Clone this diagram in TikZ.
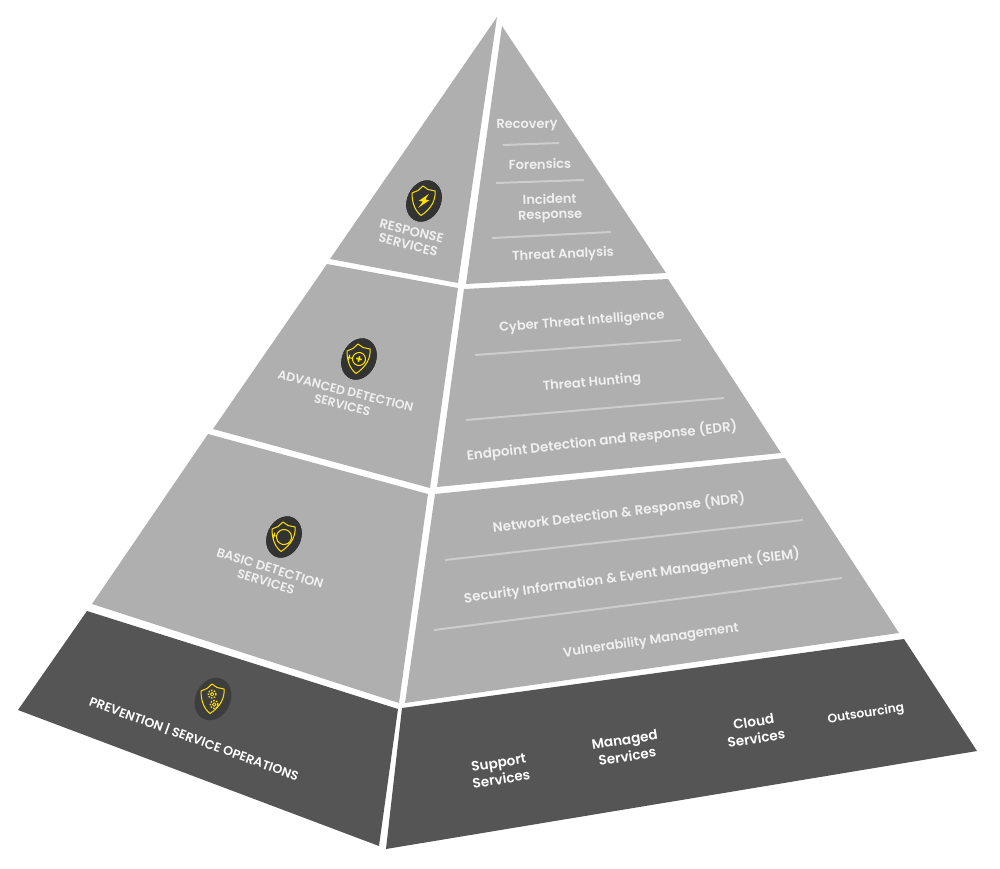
\documentclass[tikz,border=0pt]{standalone}
\usepackage{fontspec}
\setmainfont{Poppins}[UprightFont=* SemiBold,BoldFont=* Bold]
\begin{document}
\begin{tikzpicture}[x=0.75pt,y=-0.75pt,line cap=butt,
    lightface/.style={fill=facelight},
    darkface/.style={fill=facedark},
    rule/.style={draw=rulegray,line width=1.5pt},
    label/.style={text=textlight,font=\fontsize{9.7}{11.4}\selectfont,align=center,inner sep=0pt},
    wide/.style={label,font=\fontsize{10.1}{11.4}\selectfont},
    caps/.style={label,font=\fontsize{#1}{10.6}\selectfont},
    base/.style={label,text=white,font=\fontsize{10.2}{12.6}\selectfont},
    iconline/.style={draw=iconyellow,line width=0.75pt,line join=round},
    gear/.pic={
        \draw[iconline,line width=0.6pt] (0,0) circle (1.8);
        \draw[iconline,line width=1pt,dash pattern=on 1.1pt off 1pt] (0,0) circle (3.9);
    },
    shieldbase/.pic={
        \fill[line width=0.4pt,rotate=-25,#1] (0,0) ellipse (17.5 and 22);
        \draw[iconline] (-1,-15) -- (4,-11.5) -- (11,-10) .. controls (12,-1) and (7,8) .. (-3,14.5)
            .. controls (-10,9) and (-12,0) .. (-12,-8) -- (-6,-10.5) -- cycle;
    },
    ]
    \definecolor{facelight}{HTML}{AFAFAF}
    \definecolor{facedark}{HTML}{555555}
    \definecolor{rulegray}{HTML}{CDCDCD}
    \definecolor{textlight}{HTML}{F0F0F0}
    \definecolor{iconyellow}{HTML}{FFE100}
    \definecolor{iconfill}{HTML}{333333}
    \definecolor{iconfilldark}{HTML}{3D3D3D}
    \definecolor{iconedge}{HTML}{C4C4C4}
    \useasboundingbox (0,0) rectangle (1000,868);
    % left side
    \fill[lightface] (497,17) -- (458,283) -- (330,259) -- cycle;
    \fill[lightface] (327,264) -- (458,288) -- (430,488) -- (213,429) -- cycle;
    \fill[lightface] (208,434) -- (428,494) -- (399,703) -- (92,604) -- cycle;
    \fill[darkface] (87,611) -- (398,709) -- (379,846) -- (18,710) -- cycle;
    % right side
    \fill[lightface] (502,26) -- (666,273) -- (466,284) -- cycle;
    \fill[lightface] (464,289) -- (668,279) -- (781,453) -- (437,487) -- cycle;
    \fill[lightface] (435,494) -- (785,458) -- (899,633) -- (405,703) -- cycle;
    \fill[darkface] (402,708) -- (904,639) -- (977,751) -- (386,849) -- cycle;
    % rules
    \draw[rule] (503,145) -- (559,143);
    \draw[rule] (496,183) -- (584,180);
    \draw[rule] (492,238) -- (611,232);
    \draw[rule] (475,355) -- (681,340);
    \draw[rule] (466,420) -- (724,398);
    \draw[rule] (445,560) -- (803,520);
    \draw[rule] (434,630) -- (842,578);
    % right labels
    \node[label,rotate=1] (recovery) at (527,125.5) {Recovery};
    \node[label,rotate=1] (forensics) at (540,164) {Forensics};
    \node[label,rotate=2] (incident) at (550,208) {Incident\\Response};
    \node[label,rotate=2.5] (analysis) at (563,255) {Threat Analysis};
    \node[label,rotate=4.5] (cyber) at (582,322) {Cyber Threat Intelligence};
    \node[label,rotate=5] (hunting) at (592,383) {Threat Hunting};
    \node[wide,rotate=6.2] (edr) at (602,441) {Endpoint Detection and Response (EDR)};
    \node[wide,rotate=6.7] (ndr) at (619,513) {Network Detection \& Response (NDR)};
    \node[wide,rotate=7.7] (siem) at (632,576) {Security Information \& Event Management (SIEM)};
    \node[label,rotate=8.3] (vuln) at (651,641) {Vulnerability Management};
    \node[base,rotate=9] (support) at (500,771) {Support\\Services};
    \node[base,rotate=9] (managed) at (626,748) {Managed\\Services};
    \node[base,rotate=9] (cloud) at (755,730) {Cloud\\Services};
    \node[base,rotate=9,font=\fontsize{9.2}{11}\selectfont] (outsourcing) at (866,714) {Outsourcing};
    % left labels
    \node[caps=9.7,rotate=-14] (response) at (410,238) {RESPONSE\\SERVICES};
    \node[caps=9.2,rotate=-14] (advanced) at (344,398) {ADVANCED DETECTION\\SERVICES};
    \node[caps=9.5,rotate=-17] (basic) at (268,575) {BASIC DETECTION\\SERVICES};
    \node[caps=9.5,rotate=-20,text=white] (prevention) at (194,739) {PREVENTION | SERVICE OPERATIONS};
    % icons
    \begin{scope}[shift={(424,201)},rotate=-14]
        \pic {shieldbase={fill=iconfill,draw=iconedge}};
        \fill[iconyellow] (3,-8) -- (-5,1) -- (-1,1) -- (-4,8) -- (5,-2) -- (1,-2) -- cycle;
    \end{scope}
    \begin{scope}[shift={(359,359)},rotate=-14]
        \pic {shieldbase={fill=iconfill,draw=iconedge}};
        \draw[iconline] (0,0) circle (6.5) (-12,1) -- (-6.5,1) (-10,-2) -- (-10,4);
        \fill[iconyellow] (-2.8,-0.8) rectangle (2.8,0.8) (-0.8,-2.8) rectangle (0.8,2.8);
    \end{scope}
    \begin{scope}[shift={(284,537)},rotate=-14]
        \pic {shieldbase={fill=iconfill,draw=iconedge}};
        \draw[iconline] (0,0) circle (7.5) (-12,1) -- (-7.5,1) (-10,-2) -- (-10,4);
    \end{scope}
    \begin{scope}[shift={(213,699)},rotate=-14]
        \pic {shieldbase={fill=iconfilldark}};
        \pic at (-2,-4.5) {gear};
        \pic at (2.5,5) {gear};
    \end{scope}
\end{tikzpicture}
\end{document}
